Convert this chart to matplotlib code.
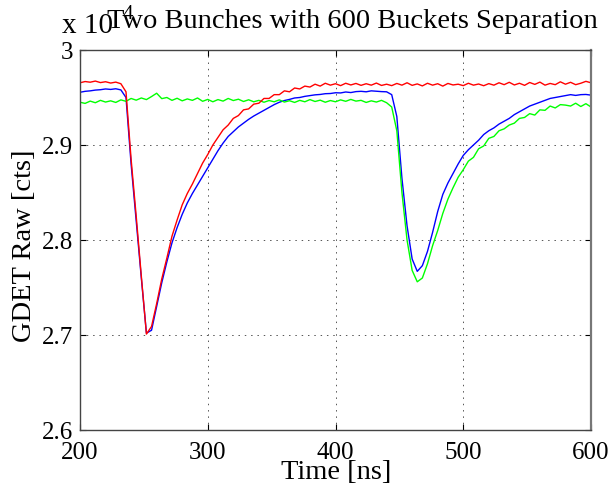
import matplotlib
matplotlib.use("Agg")
import matplotlib.pyplot as plt

plt.rcParams['font.family'] = ['Liberation Serif', 'DejaVu Serif']

time_ns = [200, 204, 208, 212, 216, 220, 224, 228, 232, 236,
           240, 244, 248, 252, 256, 260, 264, 268, 272, 276,
           280, 284, 288, 292, 296, 300, 304, 308, 312, 316,
           320, 324, 328, 332, 336, 340, 344, 348, 352, 356,
           360, 364, 368, 372, 376, 380, 384, 388, 392, 396,
           400, 404, 408, 412, 416, 420, 424, 428, 432, 436,
           440, 444, 448, 452, 456, 460, 464, 468, 472, 476,
           480, 484, 488, 492, 496, 500, 504, 508, 512, 516,
           520, 524, 528, 532, 536, 540, 544, 548, 552, 556,
           560, 564, 568, 572, 576, 580, 584, 588, 592, 596, 600]

red_cts = [29655, 29668, 29661, 29673, 29657, 29666, 29652, 29662, 29645, 29560,
           28850, 28250, 27620, 27010, 27090, 27330, 27590, 27810, 28040, 28210,
           28370, 28490, 28590, 28700, 28810, 28900, 29000, 29080, 29160, 29210,
           29280, 29310, 29370, 29380, 29430, 29440, 29490, 29490, 29530, 29530,
           29570, 29560, 29600, 29590, 29620, 29610, 29640, 29620, 29650, 29630,
           29645, 29625, 29650, 29632, 29648, 29628, 29645, 29630, 29652, 29627,
           29640, 29625, 29648, 29630, 29655, 29628, 29643, 29622, 29650, 29630,
           29645, 29620, 29648, 29632, 29640, 29625, 29650, 29630, 29642, 29624,
           29646, 29630, 29655, 29635, 29660, 29632, 29650, 29628, 29658, 29638,
           29662, 29630, 29648, 29635, 29665, 29640, 29660, 29635, 29650, 29670, 29655]

blue_cts = [29555, 29565, 29570, 29578, 29582, 29590, 29585, 29592, 29580, 29500,
            28800, 28200, 27600, 27020, 27050, 27300, 27550, 27770, 27970, 28130,
            28270, 28390, 28490, 28580, 28670, 28760, 28850, 28940, 29020, 29090,
            29140, 29190, 29230, 29270, 29305, 29335, 29365, 29395, 29425, 29450,
            29468, 29480, 29495, 29500, 29512, 29520, 29528, 29532, 29540, 29542,
            29550, 29548, 29558, 29552, 29562, 29565, 29560, 29570, 29566, 29562,
            29560, 29530, 29300, 28650, 28150, 27800, 27670, 27730, 27880, 28080,
            28300, 28480, 28600, 28700, 28800, 28890, 28950, 29000, 29050, 29110,
            29150, 29180, 29220, 29250, 29280, 29320, 29350, 29380, 29410, 29430,
            29450, 29470, 29490, 29500, 29510, 29520, 29530, 29522, 29530, 29532, 29525]

green_cts = [29450, 29438, 29462, 29445, 29470, 29452, 29465, 29448, 29475, 29460,
             29490, 29472, 29495, 29478, 29510, 29545, 29488, 29500, 29470, 29492,
             29465, 29485, 29470, 29495, 29460, 29480, 29455, 29478, 29462, 29490,
             29468, 29482, 29458, 29476, 29455, 29470, 29450, 29468, 29455, 29475,
             29452, 29466, 29448, 29470, 29455, 29478, 29458, 29472, 29450, 29468,
             29455, 29475, 29460, 29480, 29462, 29470, 29448, 29465, 29452, 29470,
             29445, 29400, 29150, 28500, 28000, 27680, 27560, 27600, 27750, 27940,
             28100, 28280, 28430, 28550, 28660, 28740, 28830, 28870, 28960, 28990,
             29070, 29090, 29150, 29170, 29210, 29230, 29280, 29290, 29330, 29315,
             29370, 29365, 29410, 29390, 29425, 29420, 29410, 29440, 29405, 29435, 29400]

x_ticks = [200, 300, 400, 500, 600]
y_ticks = [26000, 27000, 28000, 29000, 30000]
y_tick_labels = ['2.6', '2.7', '2.8', '2.9', '3']

title_text = 'Two Bunches with 600 Buckets Separation'
x_label = 'Time [ns]'
y_label = 'GDET Raw [cts]'

W, H = 613, 489
fig = plt.figure(figsize=(W / 100, H / 100), dpi=100)
ax = fig.add_axes([80 / W, 1 - 431 / H, (591 - 80) / W, (431 - 51) / H])

ax.plot(time_ns, blue_cts, color='#0000ff', lw=1.0)
ax.plot(time_ns, green_cts, color='#00ff00', lw=1.0)
ax.plot(time_ns, red_cts, color='#ff0000', lw=1.0)

ax.set_xlim(200, 600)
ax.set_ylim(26000, 30000)
ax.set_xticks(x_ticks)
ax.set_xticklabels([str(v) for v in x_ticks])
ax.set_yticks(y_ticks)
ax.set_yticklabels(y_tick_labels)

ax.grid(True, color='#555555', linestyle=(0, (1.5, 5)), linewidth=0.7)
ax.tick_params(direction='in', length=4, width=0.8, top=True, right=True,
               labelsize=18, pad=5, colors='black')
ax.tick_params(axis='x', pad=8)
for s in ax.spines.values():
    s.set_color('#444444')
    s.set_linewidth(1.0)
ax.spines['right'].set_color('#777777')
ax.spines['right'].set_linewidth(1.6)

fig.text(25 / W, 1 - 246 / H, y_label, rotation=90, ha='center', va='center', fontsize=20.5)
fig.text(336 / W, 1 - 479 / H, x_label, ha='center', va='baseline', fontsize=20.5)
fig.text(62 / W, 1 - 33 / H, 'x 10', ha='left', va='baseline', fontsize=21)
fig.text(123 / W, 1 - 19 / H, '4', ha='left', va='baseline', fontsize=15)
fig.text(352 / W, 1 - 28 / H, title_text, ha='center', va='baseline', fontsize=20.5)

fig.savefig('out.png', dpi=100)
